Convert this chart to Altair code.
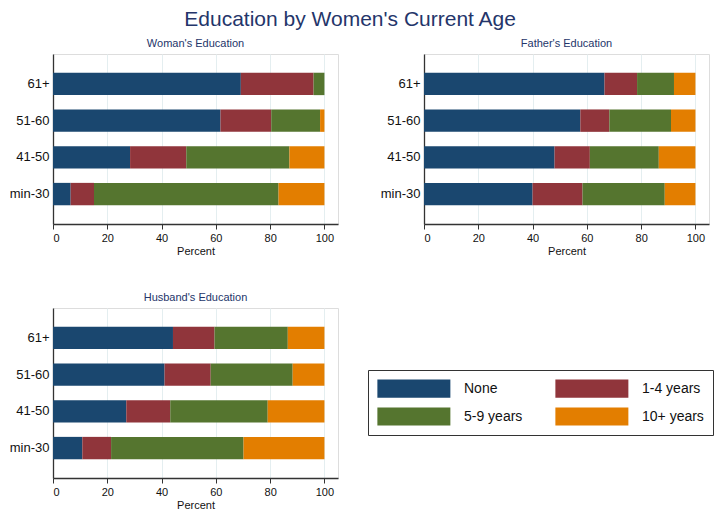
import altair as alt
import pandas as pd

ages = ["61+", "51-60", "41-50", "min-30"]
levels = ["None", "1-4 years", "5-9 years", "10+ years"]
colors = ["#1a476f", "#90353b", "#55752f", "#e37e00"]

woman_none = [69.2, 61.7, 28.4, 6.5]
woman_1_4 = [26.8, 18.7, 20.7, 8.6]
woman_5_9 = [4.0, 18.0, 38.0, 68.0]
woman_10 = [0.0, 1.6, 12.9, 16.9]

father_none = [66.5, 57.6, 48.1, 40.0]
father_1_4 = [12.0, 10.7, 13.0, 18.4]
father_5_9 = [13.6, 22.7, 25.4, 30.3]
father_10 = [7.9, 9.0, 13.5, 11.3]

husband_none = [44.2, 41.1, 27.0, 10.8]
husband_1_4 = [15.3, 17.0, 16.2, 10.6]
husband_5_9 = [27.0, 30.2, 35.9, 48.8]
husband_10 = [13.5, 11.7, 20.9, 29.8]

FONT = "Liberation Sans"
TITLE_COLOR = "#24356a"


def make_df(series):
    rows = []
    for li, (lvl, vals) in enumerate(zip(levels, series)):
        for age, v in zip(ages, vals):
            rows.append({"age": age, "level": lvl, "lvl": li, "pct": v})
    return pd.DataFrame(rows)


legend = alt.Legend(
    orient="none",
    legendX=315,
    legendY=316,
    direction="horizontal",
    title=None,
    columns=2,
    symbolType="M-1,-1H7V1H-1Z",
    symbolSize=333,
    symbolStrokeWidth=0,
    symbolOpacity=1,
    labelFontSize=14,
    labelFont=FONT,
    labelColor="#111",
    labelOffset=68,
    columnPadding=32,
    rowPadding=9,
    strokeColor="#333",
    padding=9,
)


def panel(series, title):
    df = make_df(series)
    return (
        alt.Chart(
            df,
            title=alt.TitleParams(
                title,
                fontSize=11,
                font=FONT,
                color=TITLE_COLOR,
                fontWeight="normal",
                anchor="middle",
                offset=5,
            ),
        )
        .mark_bar()
        .encode(
            y=alt.Y(
                "age:N",
                sort=ages,
                scale=alt.Scale(paddingInner=0.39, paddingOuter=0.51),
                axis=alt.Axis(
                    title=None,
                    ticks=False,
                    grid=False,
                    labelFontSize=13,
                    labelFont=FONT,
                    labelColor="#111",
                    labelPadding=4,
                    domainColor="#333",
                    domainWidth=1.3,
                ),
            ),
            x=alt.X(
                "pct:Q",
                stack="zero",
                scale=alt.Scale(domain=[0, 105], nice=False),
                axis=alt.Axis(
                    values=[0, 20, 40, 60, 80, 100],
                    title="Percent",
                    titleFont=FONT,
                    titleFontSize=11,
                    titleFontWeight="normal",
                    titleColor="#111",
                    titlePadding=2,
                    labelFont=FONT,
                    labelFontSize=11,
                    labelColor="#111",
                    labelPadding=3,
                    tickSize=5,
                    tickColor="#333",
                    domainColor="#333",
                    domainWidth=1.3,
                    grid=True,
                    gridColor="#e4eef0",
                ),
            ),
            color=alt.Color(
                "level:N",
                sort=levels,
                scale=alt.Scale(domain=levels, range=colors),
                legend=legend,
            ),
            order=alt.Order("lvl:Q"),
        )
        .properties(width=285, height=170)
    )


p1 = panel([woman_none, woman_1_4, woman_5_9, woman_10], "Woman's Education")
p2 = panel([father_none, father_1_4, father_5_9, father_10], "Father's Education")
p3 = panel([husband_none, husband_1_4, husband_5_9, husband_10], "Husband's Education")

chart = (
    alt.vconcat(alt.hconcat(p1, p2, spacing=40), p3, spacing=34)
    .properties(
        title=alt.TitleParams(
            "Education by Women's Current Age",
            fontSize=21,
            font=FONT,
            color=TITLE_COLOR,
            fontWeight="normal",
            anchor="middle",
            offset=8,
            dx=-11,
        ),
        padding={"left": 0, "top": 0, "right": 0, "bottom": 0},
    )
    .configure_view(stroke=None)
    .configure(background="white")
)

chart.save("out.html", embed_options={"renderer": "svg", "actions": False})
